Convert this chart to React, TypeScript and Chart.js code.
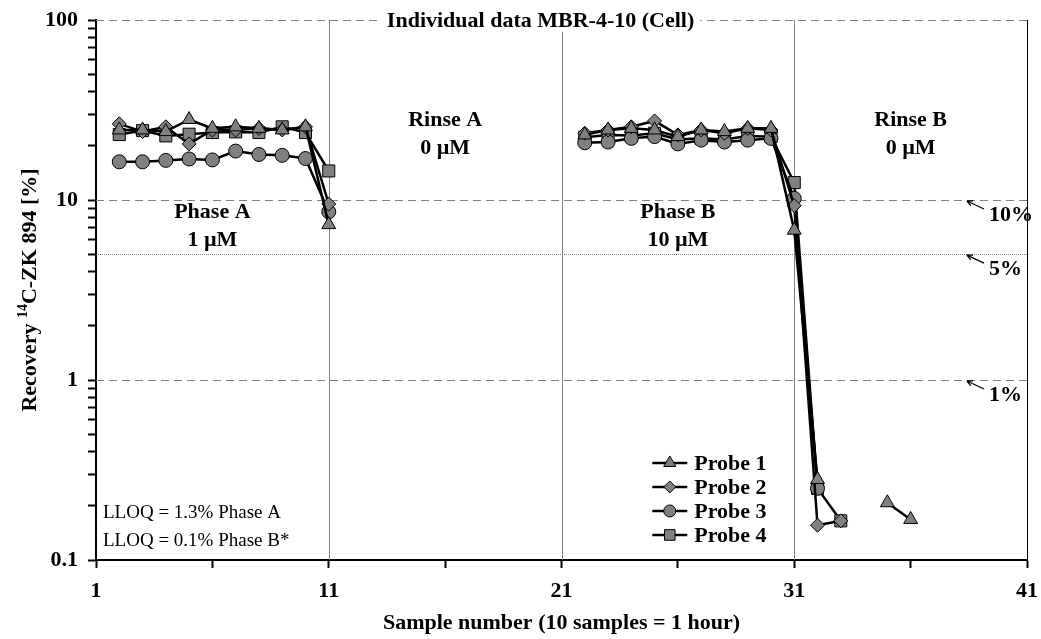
import React, { useEffect, useRef } from 'react';
import { Chart, registerables } from 'chart.js';

Chart.register(...registerables);

// ---------- data ----------
const phaseASamples = [2, 3, 4, 5, 6, 7, 8, 9, 10, 11];
const phaseBSamples = [22, 23, 24, 25, 26, 27, 28, 29, 30, 31, 32, 33, 34, 35, 36];

const probe1A = [24.5, 24.5, 24, 28, 25, 25.5, 25, 24.5, 25.5, 7.3];
const probe2A = [26.5, 24, 25.5, 20.5, 24.5, 24.5, 25, 24.5, 25.5, 9.5];
const probe3A = [16.3, 16.3, 16.6, 16.9, 16.7, 18.7, 17.9, 17.7, 17.0, 8.6];
const probe4A = [23.1, 24.3, 22.7, 23.2, 23.7, 23.9, 23.7, 25.5, 23.7, 14.5];

const probe1B = [23, 24.5, 25, 24.5, 22.5, 24.5, 24, 25, 25, 6.8, 0.28, null, null, 0.208, 0.168];
const probe2B = [23.5, 24.5, 25.5, 27.5, 23, 24.5, 23.5, 25, 24.5, 9.3, 0.156, 0.165, null, null, null];
const probe3B = [20.8, 21, 22, 22.5, 20.5, 21.5, 21, 21.5, 22, 10.2, 0.25, null, null, null, null];
const probe4B = [22.3, 23, 22.8, 23.5, 21.7, 22, 21.7, 22.7, 22.5, 12.5, 0.25, 0.165, null, null, null];

const probeNames = ['Probe 1', 'Probe 2', 'Probe 3', 'Probe 4'];
const probeStyles = ['triangle', 'rectRot', 'circle', 'rect'];
const probeRadii = [8, 7, 7, 8.5];

const yTickValues = [
  0.1, 0.2, 0.3, 0.4, 0.5, 0.6, 0.7, 0.8, 0.9,
  1, 2, 3, 4, 5, 6, 7, 8, 9,
  10, 20, 30, 40, 50, 60, 70, 80, 90, 100,
];
const yTickLabels: Record<string, string> = { '0.1': '0.1', '1': '1', '10': '10', '100': '100' };
const xTickValues = [1, 6, 11, 16, 21, 26, 31, 36, 41];
const xTickLabels: Record<string, string> = { '1': '1', '11': '11', '21': '21', '31': '31', '41': '41' };

const dashedLevels = [100, 10, 1];
const dottedLevels = [5];
const phaseBoundaries = [11, 21, 31];

const chartTitle = 'Individual data MBR-4-10 (Cell)';
const xTitle = 'Sample number (10 samples = 1 hour)';
const yTitleParts = ['Recovery ', '14', 'C-ZK 894 [%]'];

const phaseLabels = [
  { x: 6, top: 'Phase A', bottom: '1 µM', high: false },
  { x: 16, top: 'Rinse A', bottom: '0 µM', high: true },
  { x: 26, top: 'Phase B', bottom: '10 µM', high: false },
  { x: 36, top: 'Rinse B', bottom: '0 µM', high: true },
];
const levelLabels = [
  { value: 10, text: '10%' },
  { value: 5, text: '5%' },
  { value: 1, text: '1%' },
];
const lloqLines = ['LLOQ = 1.3% Phase A', 'LLOQ = 0.1% Phase B*'];

// ---------- helpers ----------
const FONT = "'Liberation Serif', 'Times New Roman', serif";
const BOLD = `bold 22px ${FONT}`;
const GREY = '#808080';

function buildSeries(a: (number | null)[], b: (number | null)[]) {
  return [
    ...phaseASamples.map((x, i) => ({ x, y: a[i] })),
    { x: 16, y: null },
    ...phaseBSamples.map((x, i) => ({ x, y: b[i] })),
  ];
}

function drawMarker(ctx: CanvasRenderingContext2D, style: string, x: number, y: number, r: number) {
  ctx.beginPath();
  if (style === 'triangle') {
    for (let k = 0; k < 3; k++) {
      const a = (k * 2 * Math.PI) / 3;
      const px = x + Math.sin(a) * r;
      const py = y - Math.cos(a) * r;
      if (k === 0) ctx.moveTo(px, py);
      else ctx.lineTo(px, py);
    }
    ctx.closePath();
  } else if (style === 'rectRot') {
    ctx.moveTo(x, y - r);
    ctx.lineTo(x + r, y);
    ctx.lineTo(x, y + r);
    ctx.lineTo(x - r, y);
    ctx.closePath();
  } else if (style === 'circle') {
    ctx.arc(x, y, r, 0, Math.PI * 2);
  } else {
    const s = r * Math.SQRT1_2;
    ctx.rect(x - s, y - s, 2 * s, 2 * s);
  }
  ctx.fillStyle = GREY;
  ctx.fill();
  ctx.strokeStyle = 'black';
  ctx.lineWidth = 1;
  ctx.stroke();
}

function hLine(ctx: CanvasRenderingContext2D, x1: number, x2: number, y: number) {
  ctx.beginPath();
  ctx.moveTo(x1, y);
  ctx.lineTo(x2, y);
  ctx.stroke();
}

function arrow(ctx: CanvasRenderingContext2D, x1: number, y1: number, x2: number, y2: number) {
  ctx.beginPath();
  ctx.moveTo(x1, y1);
  ctx.lineTo(x2, y2);
  ctx.stroke();
  const ang = Math.atan2(y2 - y1, x2 - x1);
  const L = 6;
  ctx.beginPath();
  ctx.moveTo(x2, y2);
  ctx.lineTo(x2 - L * Math.cos(ang - 0.45), y2 - L * Math.sin(ang - 0.45));
  ctx.moveTo(x2, y2);
  ctx.lineTo(x2 - L * Math.cos(ang + 0.45), y2 - L * Math.sin(ang + 0.45));
  ctx.stroke();
}

const decorPlugin = {
  id: 'decor',
  beforeDatasetsDraw(chart: any) {
    const { ctx, chartArea: ca, scales } = chart;
    const xs = scales.x;
    const ys = scales.y;
    ctx.save();
    ctx.strokeStyle = GREY;
    ctx.lineWidth = 1;
    ctx.setLineDash([8, 5]);
    dashedLevels.forEach((v) => hLine(ctx, ca.left, ca.right, Math.round(ys.getPixelForValue(v)) + 0.5));
    ctx.setLineDash([1, 1]);
    dottedLevels.forEach((v) => hLine(ctx, ca.left, ca.right, Math.round(ys.getPixelForValue(v)) + 0.5));
    ctx.setLineDash([]);
    phaseBoundaries.forEach((v) => {
      const px = Math.round(xs.getPixelForValue(v)) + 0.5;
      ctx.beginPath();
      ctx.moveTo(px, ca.top);
      ctx.lineTo(px, ca.bottom);
      ctx.stroke();
    });
    ctx.strokeStyle = 'black';
    const rx = Math.round(ca.right) + 0.5;
    ctx.beginPath();
    ctx.moveTo(rx, ca.top);
    ctx.lineTo(rx, ca.bottom);
    ctx.stroke();
    ctx.restore();
  },
  afterDatasetsDraw(chart: any) {
    const { ctx, chartArea: ca, scales } = chart;
    const xs = scales.x;
    const ys = scales.y;
    ctx.save();
    ctx.fillStyle = 'black';
    ctx.textBaseline = 'middle';

    // phase labels
    ctx.font = BOLD;
    ctx.textAlign = 'center';
    phaseLabels.forEach((p) => {
      const px = xs.getPixelForValue(p.x);
      const py = p.high ? ca.top + 100 : ca.top + 192;
      ctx.fillText(p.top, px, py);
      ctx.fillText(p.bottom, px, py + 28);
    });

    // level labels with arrows
    ctx.textAlign = 'left';
    ctx.strokeStyle = 'black';
    ctx.lineWidth = 1.3;
    levelLabels.forEach((l) => {
      const py = ys.getPixelForValue(l.value);
      const tipX = ca.right - 60;
      ctx.fillText(l.text, ca.right - 38, py + 15);
      arrow(ctx, tipX + 17, py + 9, tipX, py + 1);
    });

    // LLOQ note
    ctx.font = `19px ${FONT}`;
    ctx.textAlign = 'left';
    ctx.fillText(lloqLines[0], ca.left + 7, ca.bottom - 47);
    ctx.fillText(lloqLines[1], ca.left + 7, ca.bottom - 19);

    // legend
    ctx.font = BOLD;
    const lx = xs.getPixelForValue(24.9);
    const ly = ys.getPixelForValue(0.346);
    chart.data.datasets.forEach((ds: any, i: number) => {
      const yy = ly + i * 24;
      ctx.strokeStyle = 'black';
      ctx.lineWidth = 2.5;
      hLine(ctx, lx, lx + 35, yy);
      drawMarker(ctx, ds.pointStyle, lx + 17.5, yy, ds.pointRadius - 1);
      ctx.fillStyle = 'black';
      ctx.textAlign = 'left';
      ctx.fillText(ds.label, lx + 42, yy + 1);
    });

    // title with white box
    ctx.font = BOLD;
    const tx = xs.getPixelForValue(20.1);
    const tw = ctx.measureText(chartTitle).width;
    ctx.fillStyle = 'white';
    ctx.fillRect(tx - tw / 2 - 6, ca.top - 12, tw + 12, 24);
    ctx.fillStyle = 'black';
    ctx.textAlign = 'center';
    ctx.fillText(chartTitle, tx, ca.top + 1);
    ctx.restore();
  },
  afterDraw(chart: any) {
    const { ctx, chartArea: ca } = chart;
    ctx.save();
    ctx.fillStyle = 'black';
    ctx.textBaseline = 'middle';
    ctx.textAlign = 'center';
    ctx.font = BOLD;
    ctx.fillText(xTitle, (ca.left + ca.right) / 2, 623);

    // y title with superscript
    ctx.translate(30, (ca.top + ca.bottom) / 2);
    ctx.rotate(-Math.PI / 2);
    ctx.textAlign = 'left';
    const supFont = `bold 14px ${FONT}`;
    ctx.font = BOLD;
    const w0 = ctx.measureText(yTitleParts[0]).width;
    const w2 = ctx.measureText(yTitleParts[2]).width;
    ctx.font = supFont;
    const w1 = ctx.measureText(yTitleParts[1]).width;
    let cx = -(w0 + w1 + w2) / 2;
    ctx.font = BOLD;
    ctx.fillText(yTitleParts[0], cx, 0);
    cx += w0;
    ctx.font = supFont;
    ctx.fillText(yTitleParts[1], cx, -7);
    cx += w1;
    ctx.font = BOLD;
    ctx.fillText(yTitleParts[2], cx, 0);
    ctx.restore();
  },
};

export default function App() {
  const canvasRef = useRef<HTMLCanvasElement | null>(null);

  useEffect(() => {
    if (!canvasRef.current) return;
    const series = [
      buildSeries(probe1A, probe1B),
      buildSeries(probe2A, probe2B),
      buildSeries(probe3A, probe3B),
      buildSeries(probe4A, probe4B),
    ];
    const chart = new Chart(canvasRef.current, {
      type: 'line',
      data: {
        datasets: series.map((data, i) => ({
          label: probeNames[i],
          data,
          borderColor: 'black',
          borderWidth: 2.5,
          pointStyle: probeStyles[i],
          pointRadius: probeRadii[i],
          pointBackgroundColor: GREY,
          pointBorderColor: 'black',
          pointBorderWidth: 1,
          spanGaps: false,
          tension: 0,
        })),
      },
      options: {
        responsive: false,
        animation: false,
        events: [],
        layout: { padding: { top: 20, right: 14, left: 0, bottom: 0 } },
        plugins: { legend: { display: false }, tooltip: { enabled: false } },
        scales: {
          x: {
            type: 'linear',
            min: 1,
            max: 41,
            afterBuildTicks: (s: any) => {
              s.ticks = xTickValues.map((v) => ({ value: v }));
            },
            afterFit: (s: any) => {
              s.height = 79;
              s.paddingLeft = 0;
              s.paddingRight = 0;
            },
            ticks: {
              autoSkip: false,
              maxRotation: 0,
              color: 'black',
              font: { family: FONT, size: 22, weight: 'bold' },
              padding: 10,
              callback: (v: any) => xTickLabels[String(v)] ?? '',
            },
            grid: { drawOnChartArea: false, drawTicks: true, tickLength: 8, tickColor: 'black', tickWidth: 2 },
            border: { color: 'black', width: 2 },
          },
          y: {
            type: 'logarithmic',
            min: 0.1,
            max: 100,
            afterBuildTicks: (s: any) => {
              s.ticks = yTickValues.map((v) => ({ value: v }));
            },
            afterFit: (s: any) => {
              s.width = 96;
              s.paddingTop = 0;
              s.paddingBottom = 0;
            },
            ticks: {
              autoSkip: false,
              color: 'black',
              font: { family: FONT, size: 22, weight: 'bold' },
              padding: 10,
              callback: (v: any) => yTickLabels[String(v)] ?? '',
            },
            grid: { drawOnChartArea: false, drawTicks: true, tickLength: 8, tickColor: 'black', tickWidth: 2 },
            border: { color: 'black', width: 2 },
          },
        },
      },
      plugins: [decorPlugin],
    } as any);
    return () => chart.destroy();
  }, []);

  return (
    <div style={{ position: 'fixed', left: 0, top: 0, width: 1041, height: 639, background: 'white' }}>
      <canvas ref={canvasRef} width={1041} height={639} style={{ display: 'block' }} />
    </div>
  );
}
